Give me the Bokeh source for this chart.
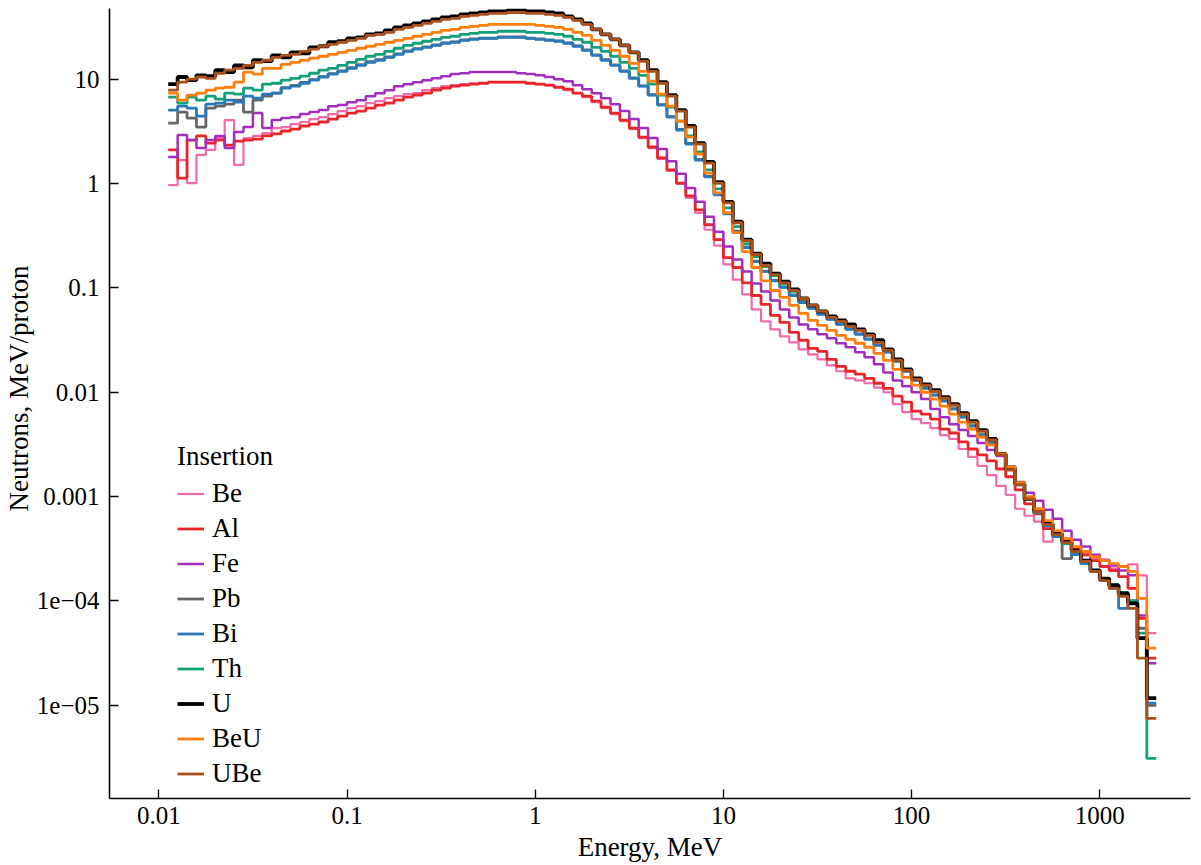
import numpy as np
from bokeh.plotting import figure
from bokeh.models import FixedTicker, Legend, LegendItem, Title
from bokeh.embed import file_html
from bokeh.resources import INLINE

# energy bin edges, MeV (20 bins per decade, 10^-1.95 ... 10^3.3)
bin_edges = 10 ** (np.arange(106) * 0.05 - 1.95)

Be = [0.968, 1.68, 1.01, 1.88, 2.10, 2.73, 4.06, 1.51, 2.73, 2.86, 3.05, 3.4, 3.48, 3.72, 3.89, 4.15, 4.33, 4.63, 4.95, 5.28,
      5.52, 5.9, 6.16, 6.58, 6.88, 7.19, 7.35, 7.85, 8.2, 8.57, 8.77, 8.96, 9.15, 9.15, 9.36, 9.36, 9.36, 9.36, 9.15, 8.96,
      8.77, 8.37, 7.85, 7.35, 6.73, 6.03, 5.28, 4.63, 3.97, 3.33, 2.73, 2.19, 1.72, 1.32, 0.99, 0.73, 0.524, 0.361, 0.254, 0.168,
      0.12, 0.0866, 0.0622, 0.0478, 0.0401, 0.0344, 0.0301, 0.0258, 0.0231, 0.0207, 0.0181, 0.0159, 0.0136, 0.013, 0.0122,
      0.0111, 0.01, 0.00771, 0.00646, 0.00553, 0.00507, 0.00454, 0.00389, 0.00357, 0.00286, 0.0024, 0.00197, 0.00161, 0.00127,
      0.00104, 0.000765, 0.000656, 0.000575, 0.000371, 0.000413, 0.000396, 0.000304, 0.000273, 0.000255, 0.000244, 0.000205,
      0.000214, 0.000224, 0.000176, 4.91e-5]
Al = [2.10, 1.13, 2.61, 2.86, 2.44, 2.61, 2.34, 2.55, 2.61, 2.67, 2.86, 2.99, 3.19, 3.33, 3.56, 3.72, 3.89, 4.15, 4.43, 4.74,
      4.95, 5.28, 5.65, 5.9, 6.30, 6.73, 7.03, 7.35, 7.85, 8.2, 8.57, 8.77, 8.96, 9.15, 9.36, 9.36, 9.36, 9.36, 9.15, 8.96,
      8.77, 8.37, 8.02, 7.35, 6.88, 6.16, 5.4, 4.74, 4.06, 3.4, 2.79, 2.24, 1.76, 1.35, 1.01, 0.762, 0.56, 0.403, 0.29, 0.195,
      0.157, 0.112, 0.0846, 0.0695, 0.0545, 0.0467, 0.0375, 0.0315, 0.0264, 0.0247, 0.0207, 0.0177, 0.0159, 0.0149, 0.0136,
      0.0122, 0.0109, 0.00917, 0.00805, 0.0066, 0.00618, 0.00553, 0.00444, 0.00407, 0.00334, 0.00286, 0.00251, 0.0022,
      0.00184, 0.00155, 0.00116, 0.000853, 0.000685, 0.000493, 0.000442, 0.000379, 0.000318, 0.000278, 0.000244, 0.000214,
      0.000196, 0.000171, 0.000132, 6.82e-5, 2.83e-5]
Fe = [1.8, 2.92, 2.61, 2.19, 2.61, 2.86, 2.19, 3.12, 3.48, 4.74, 3.4, 4.06, 4.24, 4.33, 4.63, 4.84, 5.06, 5.52, 5.65, 6.03,
      6.30, 6.88, 7.35, 7.85, 8.57, 8.96, 9.36, 9.78, 10.2, 10.7, 11.2, 11.4, 11.7, 11.7, 11.7, 11.7, 11.7, 11.4, 11.2, 10.9,
      10.5, 10.0, 9.57, 8.77, 8.02, 7.35, 6.58, 5.77, 4.95, 4.15, 3.4, 2.73, 2.14, 1.64, 1.24, 0.908, 0.668, 0.48, 0.345, 0.249,
      0.187, 0.144, 0.11, 0.0925, 0.0758, 0.0622, 0.0521, 0.0447, 0.0401, 0.0359, 0.0329, 0.0295, 0.027, 0.0242, 0.0216,
      0.0186, 0.0155, 0.013, 0.0114, 0.01, 0.0086, 0.0069, 0.00577, 0.00495, 0.00434, 0.00381, 0.00327, 0.0028, 0.00245,
      0.00184, 0.00138, 0.00109, 0.000912, 0.000748, 0.000614, 0.000472, 0.000387, 0.000332, 0.000278, 0.000249, 0.000219,
      0.000196, 0.000176, 7.26e-5, 2.53e-5]
Pb = [3.8, 4.84, 4.23, 3.48, 5.28, 5.52, 5.77, 6.30, 4.84, 6.30, 6.88, 7.35, 8.3, 8.7, 9.3, 9.9, 10.6, 11.3, 12.0, 12.9,
      13.8, 14.7, 15.4, 16.4, 17.5, 18.7, 19.6, 20.4, 21.3, 22.3, 22.8, 23.8, 24.3, 24.8, 24.8, 25.4, 25.4, 25.4, 24.8, 24.3,
      23.8, 23.3, 22.3, 20.9, 19.1, 17.1, 15.4, 13.7, 12.0, 10.3, 8.65, 7.1, 5.7, 4.38, 3.3, 2.42, 1.7, 1.17, 0.79, 0.52,
      0.35, 0.247, 0.181, 0.145, 0.118, 0.102, 0.0855, 0.0732, 0.0642, 0.0562, 0.0504, 0.0451, 0.0405, 0.0363, 0.0325,
      0.0285, 0.0244, 0.02, 0.016, 0.0131, 0.011, 0.00946, 0.0083, 0.00697, 0.00583, 0.00479, 0.00393, 0.0033, 0.00259,
      0.00195, 0.00137, 0.00096, 0.00071, 0.00053, 0.00042, 0.000255, 0.00028, 0.00023, 0.000194, 0.000159, 0.000141,
      0.000118, 0.0001, 5.48e-5, 1.0e-5]
Bi = [5.06, 5.52, 5.28, 4.43, 5.77, 5.9, 6.30, 6.03, 6.88, 6.58, 7.19, 7.35, 8.2, 8.57, 9.15, 9.78, 10.5, 11.2, 11.9, 12.7,
      13.6, 14.5, 15.2, 16.2, 17.3, 18.5, 19.4, 20.2, 21.1, 22.1, 22.6, 23.6, 24.1, 24.6, 24.6, 25.2, 25.2, 25.2, 24.6, 24.1,
      23.6, 23.1, 22.1, 20.7, 18.9, 16.9, 15.2, 13.6, 11.9, 10.2, 8.57, 7.03, 5.65, 4.33, 3.26, 2.39, 1.68, 1.16, 0.78, 0.513,
      0.345, 0.244, 0.179, 0.144, 0.117, 0.101, 0.0846, 0.0725, 0.0636, 0.0557, 0.0499, 0.0447, 0.0401, 0.0359, 0.0322,
      0.0282, 0.0242, 0.0198, 0.0159, 0.013, 0.0109, 0.00937, 0.00823, 0.0069, 0.00577, 0.00474, 0.00389, 0.00327, 0.00256,
      0.00193, 0.00136, 0.000953, 0.0007, 0.000526, 0.000413, 0.000355, 0.000278, 0.000228, 0.000192, 0.000157, 0.000132,
      8.5e-5, 9.7e-5, 4.4e-5, 1.05e-5]
Th = [6.73, 5.9, 6.73, 6.30, 6.88, 6.44, 7.35, 7.19, 8.2, 7.85, 8.96, 9.15, 9.78, 10.2, 10.7, 11.4, 12.2, 12.7, 13.6, 14.5,
      15.5, 16.6, 17.3, 18.5, 19.8, 21.1, 22.1, 23.1, 24.1, 25.2, 25.8, 26.9, 27.5, 28.1, 28.1, 28.8, 28.8, 28.8, 28.1, 28.1,
      27.5, 26.9, 25.8, 24.1, 22.6, 20.2, 18.5, 16.6, 14.5, 12.7, 10.9, 8.96, 7.03, 5.4, 3.97, 2.86, 2.01, 1.35, 0.89, 0.585,
      0.386, 0.266, 0.2, 0.16, 0.131, 0.11, 0.0925, 0.0792, 0.0679, 0.0595, 0.0533, 0.0488, 0.0447, 0.0401, 0.0359, 0.0308,
      0.0252, 0.0202, 0.0162, 0.0133, 0.0117, 0.0102, 0.00877, 0.00753, 0.00618, 0.00518, 0.00425, 0.00349, 0.00256,
      0.00184, 0.0013, 0.000953, 0.000716, 0.000538, 0.000432, 0.000355, 0.000298, 0.000244, 0.000196, 0.000164, 0.000144,
      0.000121, 0.000101, 4.91e-5, 3.1e-6]
U = [8.96, 10.5, 9.78, 10.9, 10.7, 12.2, 11.7, 13.6, 13.0, 15.2, 14.9, 16.9, 16.2, 18.1, 17.7, 20.2, 20.7, 22.6, 23.1, 24.6,
     25.2, 26.9, 27.5, 29.4, 31.4, 32.8, 34.3, 35.8, 37.4, 39.1, 40.0, 41.8, 42.7, 43.6, 44.6, 44.6, 45.6, 45.6, 44.6, 44.6,
     43.6, 42.7, 40.0, 37.4, 34.3, 30.0, 26.9, 24.1, 21.1, 18.1, 15.2, 12.2, 9.36, 7.03, 5.06, 3.56, 2.44, 1.61, 1.03, 0.668,
     0.431, 0.290, 0.213, 0.171, 0.137, 0.115, 0.0966, 0.0792, 0.0679, 0.0595, 0.0533, 0.0488, 0.0447, 0.0401, 0.0359,
     0.0315, 0.0258, 0.0207, 0.0166, 0.0136, 0.0119, 0.0105, 0.00897, 0.00771, 0.00632, 0.00529, 0.00434, 0.00357, 0.00256,
     0.00184, 0.00133, 0.000953, 0.000732, 0.00055, 0.000442, 0.000371, 0.000304, 0.000244, 0.000196, 0.000164, 0.000141,
     0.000118, 0.000095, 4.4e-5, 1.17e-5]
BeU = [7.35, 6.30, 7.03, 7.35, 7.85, 8.2, 8.37, 9.36, 11.7, 11.2, 12.7, 12.7, 13.9, 14.5, 15.2, 15.9, 16.6, 17.3, 18.1, 18.9,
       19.8, 20.7, 21.6, 22.6, 23.6, 24.6, 25.8, 26.9, 28.1, 29.4, 30.0, 31.4, 32.1, 32.8, 33.5, 33.5, 33.5, 33.5, 33.5, 32.8,
       32.1, 31.4, 30.0, 28.1, 26.3, 23.6, 21.1, 18.9, 16.6, 14.2, 11.9, 9.57, 7.18, 5.52, 3.97, 2.79, 1.92, 1.26, 0.814,
       0.524, 0.338, 0.223, 0.157, 0.117, 0.0945, 0.081, 0.0679, 0.057, 0.0488, 0.0437, 0.0392, 0.0351, 0.0322, 0.0295,
       0.027, 0.0236, 0.0202, 0.0166, 0.0139, 0.0117, 0.01, 0.0086, 0.00737, 0.00618, 0.00518, 0.00444, 0.00372, 0.00313,
       0.00256, 0.00193, 0.00136, 0.000997, 0.000765, 0.000588, 0.000472, 0.000396, 0.000332, 0.000298, 0.000266, 0.000244,
       0.000228, 0.000214, 0.000192, 0.000106, 3.53e-5]
UBe = [7.85, 9.36, 10.0, 10.5, 10.2, 11.4, 12.2, 12.7, 13.6, 14.5, 15.2, 16.2, 16.9, 17.3, 18.5, 19.4, 20.7, 21.6, 22.6, 23.6,
       24.6, 26.3, 26.9, 28.1, 30.0, 31.4, 32.8, 34.3, 35.8, 37.4, 38.2, 40.0, 40.9, 41.8, 42.7, 42.7, 43.6, 43.6, 42.7, 42.7,
       41.8, 40.9, 39.1, 36.6, 33.5, 30.0, 26.9, 24.1, 21.1, 18.1, 14.9, 11.9, 9.15, 6.88, 4.95, 3.48, 2.39, 1.57, 1.01,
       0.653, 0.421, 0.284, 0.209, 0.164, 0.134, 0.112, 0.0945, 0.0792, 0.0679, 0.0595, 0.0521, 0.0478, 0.0428, 0.0392,
       0.0351, 0.0301, 0.0252, 0.0202, 0.0162, 0.0133, 0.0117, 0.0102, 0.00877, 0.00753, 0.00618, 0.00518, 0.00425, 0.00349,
       0.00251, 0.0018, 0.0013, 0.000953, 0.000716, 0.000538, 0.000432, 0.000363, 0.000298, 0.000239, 0.000192, 0.000157,
       0.000132, 0.000111, 8.5e-5, 2.83e-5, 7.5e-6]

names = ["Be", "Al", "Fe", "Pb", "Bi", "Th", "U", "BeU", "UBe"]
series = [Be, Al, Fe, Pb, Bi, Th, U, BeU, UBe]
colors = ["#f46aa8", "#e82528", "#a22ebf", "#666666", "#2a79b8", "#14a078", "#000000", "#ff7f0e", "#a9501d"]
widths = [2.2, 2.8, 2.5, 2.8, 2.8, 2.8, 3.8, 2.8, 2.8]

x_ticks = [0.01, 0.1, 1, 10, 100, 1000]
x_labels = ["0.01", "0.1", "1", "10", "100", "1000"]
y_ticks = [1e-5, 1e-4, 1e-3, 1e-2, 1e-1, 1, 10]
y_labels = ["1e\u221205", "1e\u221204", "0.001", "0.01", "0.1", "1", "10"]

FONT = "Liberation Serif"

p = figure(width=1198, height=864, x_axis_type="log", y_axis_type="log",
           x_range=(0.00547, 3034), y_range=(1.28e-6, 47.6),
           output_backend="svg", toolbar_location=None,
           min_border_left=109, min_border_right=8, min_border_top=8, min_border_bottom=63)
p.outline_line_color = None
p.xgrid.visible = False
p.ygrid.visible = False
p.background_fill_color = "white"
p.border_fill_color = "white"

renderers = []
for name, vals, col, w in zip(names, series, colors, widths):
    assert len(vals) == len(bin_edges) - 1, name
    yv = list(vals) + [vals[-1]]
    r = p.step(bin_edges, yv, mode="after", line_color=col, line_width=w)
    renderers.append(r)

for ax, ticks, labels in ((p.xaxis[0], x_ticks, x_labels), (p.yaxis[0], y_ticks, y_labels)):
    ax.ticker = FixedTicker(ticks=ticks, minor_ticks=[])
    ov = {}
    for t, l in zip(ticks, labels):
        ov[float(t)] = l
    ax.major_label_overrides = ov
    ax.major_tick_in = 9
    ax.major_tick_out = 0
    ax.minor_tick_in = 0
    ax.minor_tick_out = 0
    ax.axis_line_color = "black"
    ax.axis_line_width = 1.6
    ax.major_tick_line_color = "black"
    ax.major_tick_line_width = 1.3
    ax.major_label_text_font = FONT
    ax.major_label_text_font_size = "25px"
    ax.major_label_text_color = "black"
    ax.axis_label_text_font = FONT
    ax.axis_label_text_font_size = "27px"
    ax.axis_label_text_font_style = "normal"
    ax.axis_label_text_color = "black"

p.xaxis.major_label_standoff = 8
p.yaxis.major_label_standoff = 10
p.xaxis.axis_label = "Energy, MeV"
p.xaxis.axis_label_standoff = 5

ytitle = Title(text="Neutrons, MeV/proton", align="left", offset=287, standoff=0,
               text_font=FONT, text_font_size="27px", text_font_style="normal", text_color="black")
p.add_layout(ytitle, "left")

items = [LegendItem(label=n, renderers=[r]) for n, r in zip(names, renderers)]
legend = Legend(items=items, location=(68, 9), title="Insertion",
                title_text_font=FONT, title_text_font_size="27px", title_text_font_style="normal",
                title_text_color="black", title_standoff=6,
                label_text_font=FONT, label_text_font_size="27px", label_text_color="black",
                glyph_width=27, glyph_height=31, label_height=31, label_standoff=8, spacing=4,
                padding=0, margin=0, border_line_color=None, background_fill_alpha=0)
p.add_layout(legend)

open("out.html", "w").write(file_html(p, INLINE))
